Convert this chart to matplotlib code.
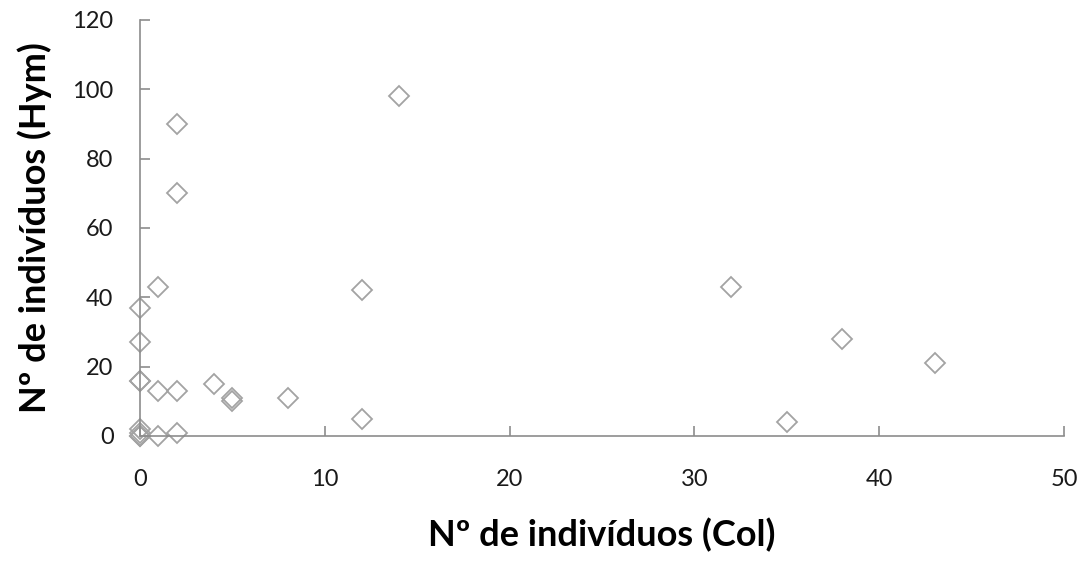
import matplotlib
matplotlib.use("Agg")
import matplotlib.pyplot as plt

# Nº de indivíduos: Col (x) vs Hym (y)
col = [0, 0, 0, 0, 0, 0, 0, 0, 0,
       1, 1, 1,
       2, 2, 2, 2,
       4, 5, 5, 8,
       12, 12, 14,
       32, 35, 38, 43]
hym = [37, 27, 16, 16, 2, 1, 0, 0, 0,
       43, 13, 0,
       90, 70, 13, 1,
       15, 11, 10, 11,
       42, 5, 98,
       43, 4, 28, 21]

x_ticks = [0, 10, 20, 30, 40, 50]
y_ticks = [0, 20, 40, 60, 80, 100, 120]

plt.rcParams['font.family'] = ['Lato', 'DejaVu Sans']

fig = plt.figure(figsize=(10.8, 5.62), dpi=100)
ax = fig.add_axes([140 / 1080, 1 - 436 / 562, 924 / 1080, 416 / 562])

ax.plot(col, hym, linestyle='none', marker='D', markersize=10,
        markerfacecolor='none', markeredgecolor='#a3a3a3', markeredgewidth=1.3,
        clip_on=False)

ax.set_xlim(0, 50)
ax.set_ylim(0, 120)
ax.set_xticks(x_ticks)
ax.set_yticks(y_ticks)

for side in ['top', 'right']:
    ax.spines[side].set_visible(False)
for side in ['left', 'bottom']:
    ax.spines[side].set_color('#8c8c8c')
    ax.spines[side].set_linewidth(1.2)

ax.tick_params(axis='x', direction='in', length=7, width=1.2, color='#8c8c8c',
               pad=24, labelsize=17, labelcolor='#1a1a1a')
ax.tick_params(axis='y', direction='in', length=7, width=1.2, color='#8c8c8c',
               pad=19, labelsize=17, labelcolor='#1a1a1a')

ax.set_xlabel('Nº de indivíduos (Col)', fontsize=26, fontweight='bold', labelpad=20)
ax.set_ylabel('Nº de indivíduos (Hym)', fontsize=26, fontweight='bold', labelpad=15)

fig.savefig('out.png', dpi=100)
